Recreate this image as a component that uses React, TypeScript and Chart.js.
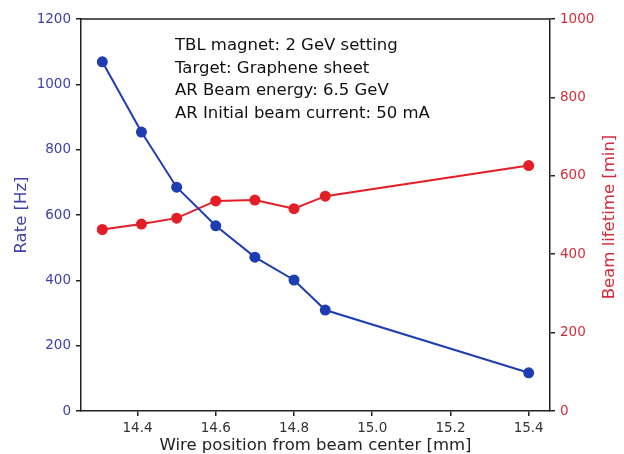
import React, { useEffect, useRef } from "react";
import { Chart, registerables } from "chart.js";

Chart.register(...registerables);

const positions = [14.31, 14.41, 14.5, 14.6, 14.7, 14.8, 14.88, 15.4];
const rateHz = [1069, 854, 685, 567, 471, 401, 309, 117];
const lifetimeMin = [463, 477, 492, 536, 538, 516, 548, 626];
const xTicks = [14.4, 14.6, 14.8, 15.0, 15.2, 15.4];
const rateTicks = [0, 200, 400, 600, 800, 1000, 1200];
const lifetimeTicks = [0, 200, 400, 600, 800, 1000];
const notes = [
  "TBL magnet: 2 GeV setting",
  "Target: Graphene sheet",
  "AR Beam energy: 6.5 GeV",
  "AR Initial beam current: 50 mA",
];
const rightTitle = "Beam lifetime [min]";

const FONT = "'DejaVu Sans', sans-serif";
const BLUE = "#1f3db3";
const RED = "#e41e26";
const BLUE_TXT = "#4040aa";
const RED_TXT = "#d42c3a";

export default function App() {
  const ref = useRef<HTMLCanvasElement | null>(null);
  useEffect(() => {
    if (!ref.current) return;
    const framePlugin = {
      id: "frame",
      afterDatasetsDraw(chart: any) {
        const { ctx, chartArea } = chart;
        ctx.save();
        ctx.strokeStyle = "#222";
        ctx.lineWidth = 1.5;
        ctx.beginPath();
        ctx.moveTo(chartArea.left, chartArea.top);
        ctx.lineTo(chartArea.right, chartArea.top);
        ctx.stroke();
        ctx.fillStyle = "#111";
        ctx.font = `16.5px ${FONT}`;
        ctx.textBaseline = "middle";
        ctx.textAlign = "left";
        notes.forEach((t, i) => {
          ctx.fillText(t, chartArea.left + 94, chartArea.top + 27 + i * 22.5);
        });
        // right axis title, reading bottom to top
        ctx.translate(chartArea.right + 60, (chartArea.top + chartArea.bottom) / 2 + 2);
        ctx.rotate(-Math.PI / 2);
        ctx.textAlign = "center";
        ctx.fillStyle = RED_TXT;
        ctx.font = `16.5px ${FONT}`;
        ctx.fillText(rightTitle, 0, 0);
        ctx.restore();
      },
    };
    const fmtInt = (v: any) => String(Math.round(Number(v)));
    const chart = new Chart(ref.current, {
      type: "line",
      data: {
        datasets: [
          {
            label: "Rate",
            data: positions.map((x, i) => ({ x, y: rateHz[i] })),
            borderColor: BLUE,
            backgroundColor: BLUE,
            borderWidth: 2,
            pointRadius: 5.5,
            pointBorderWidth: 0,
            pointHoverRadius: 5.5,
            yAxisID: "y",
          },
          {
            label: "Lifetime",
            data: positions.map((x, i) => ({ x, y: lifetimeMin[i] })),
            borderColor: RED,
            backgroundColor: RED,
            borderWidth: 2,
            pointRadius: 5.5,
            pointBorderWidth: 0,
            pointHoverRadius: 5.5,
            yAxisID: "y1",
          },
        ],
      },
      plugins: [framePlugin],
      options: {
        animation: false,
        responsive: false,
        maintainAspectRatio: false,
        layout: { padding: { top: 19, left: 0, right: 0, bottom: 0 } },
        plugins: { legend: { display: false }, tooltip: { enabled: false } },
        scales: {
          x: {
            type: "linear",
            min: 14.2555,
            max: 15.4545,
            afterBuildTicks: (s: any) => {
              s.ticks = xTicks.map((v) => ({ value: v }));
            },
            afterFit: (s: any) => {
              s.height = 43;
            },
            grid: { drawOnChartArea: false, drawTicks: true, tickLength: 5, color: "#222", lineWidth: 1.5 },
            border: { display: true, color: "#222", width: 1.5 },
            ticks: {
              color: "#333",
              font: { family: FONT, size: 13.5 },
              padding: 4,
              maxRotation: 0,
              callback: (v: any) => Number(v).toFixed(1),
            },
            title: {
              display: true,
              text: "Wire position from beam center [mm]",
              color: "#222",
              font: { family: FONT, size: 16.5 },
              padding: { top: 0, bottom: -2 },
            },
          },
          y: {
            type: "linear",
            position: "left",
            min: 0,
            max: 1200,
            afterBuildTicks: (s: any) => {
              s.ticks = rateTicks.map((v) => ({ value: v }));
            },
            afterFit: (s: any) => {
              s.width = 81;
            },
            grid: { drawOnChartArea: false, drawTicks: true, tickLength: 5, color: "#222", lineWidth: 1.5 },
            border: { display: true, color: "#222", width: 1.5 },
            ticks: { color: BLUE_TXT, font: { family: FONT, size: 13.5 }, padding: 5, callback: fmtInt },
            title: {
              display: true,
              text: "Rate [Hz]",
              color: BLUE_TXT,
              font: { family: FONT, size: 16.5 },
              padding: { top: 12, bottom: 0 },
            },
          },
          y1: {
            type: "linear",
            position: "right",
            min: 0,
            max: 1000,
            afterBuildTicks: (s: any) => {
              s.ticks = lifetimeTicks.map((v) => ({ value: v }));
            },
            afterFit: (s: any) => {
              s.width = 74;
            },
            grid: { drawOnChartArea: false, drawTicks: true, tickLength: 5, color: "#222", lineWidth: 1.5 },
            border: { display: true, color: "#222", width: 1.5 },
            ticks: { color: RED_TXT, font: { family: FONT, size: 13.5 }, padding: 5, callback: fmtInt },
            title: { display: false },
          },
        },
      },
    } as any);
    return () => chart.destroy();
  }, []);
  return (
    <div style={{ position: "fixed", left: 0, top: 0, width: 624, height: 454, background: "#fff" }}>
      <canvas ref={ref} width={624} height={454} style={{ width: 624, height: 454 }} />
    </div>
  );
}
